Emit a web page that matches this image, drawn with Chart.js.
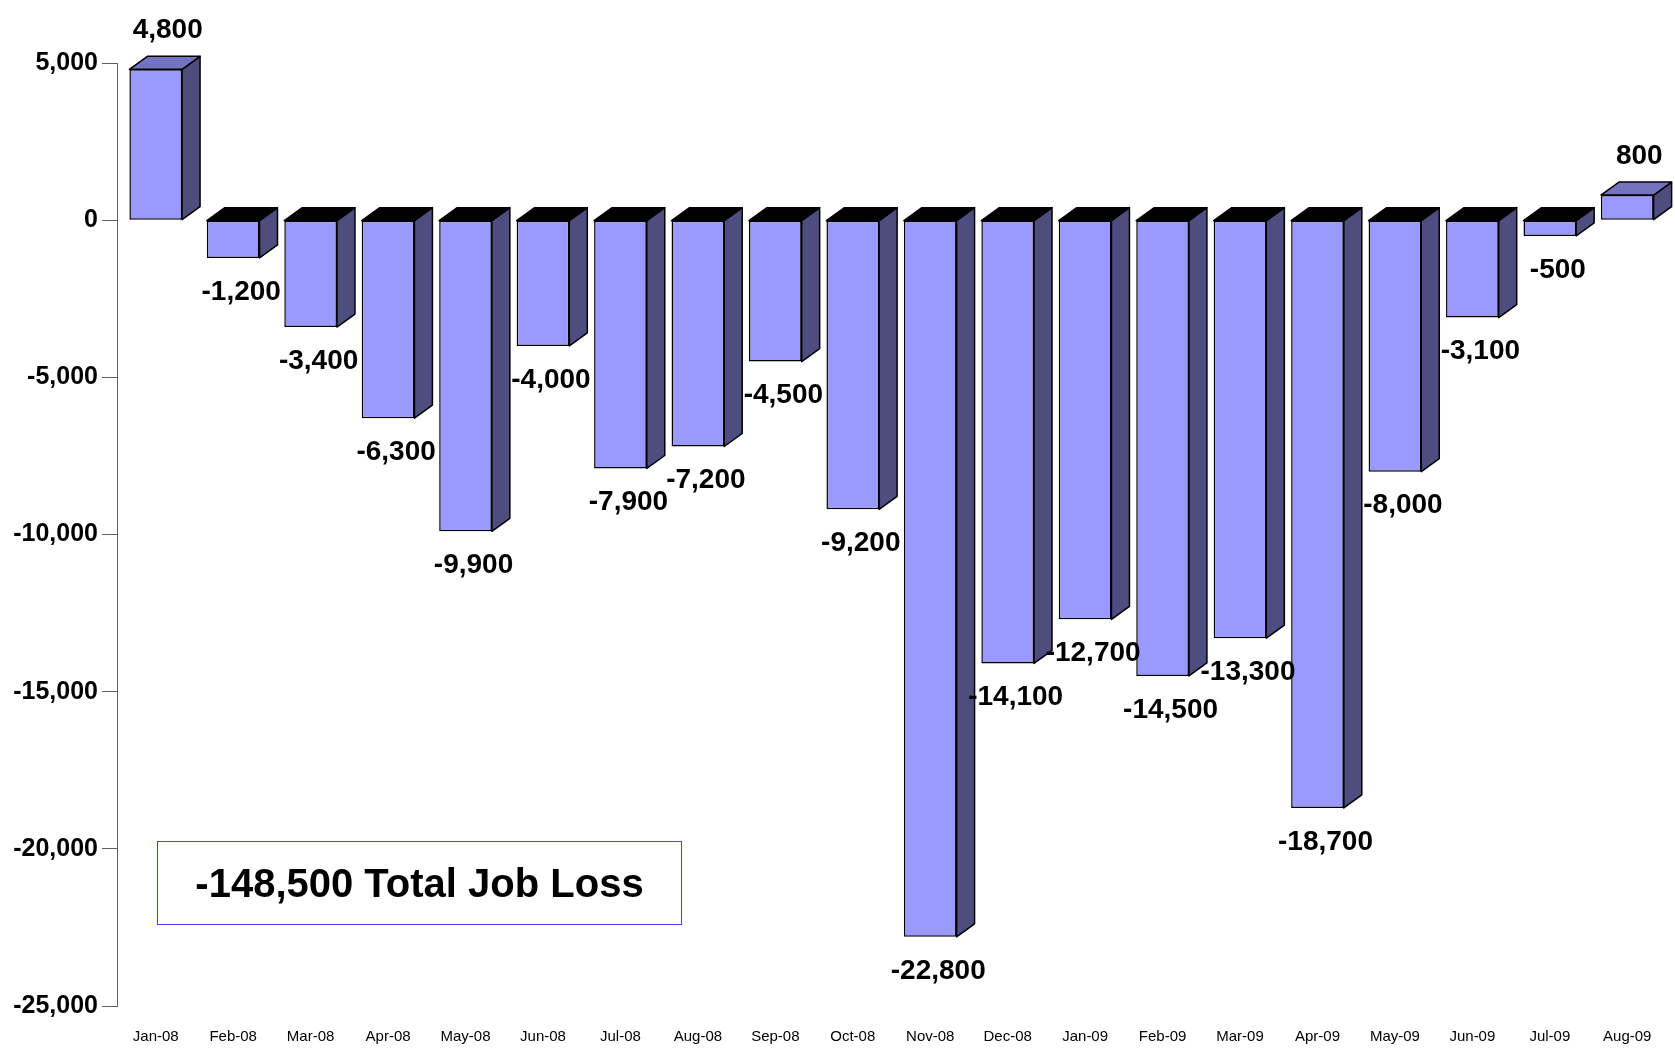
<!DOCTYPE html>
<html>
<head>
<meta charset="utf-8">
<script src="https://cdn.jsdelivr.net/npm/chart.js@4"></script>
<style>
  html, body { margin: 0; padding: 0; background: #fff; }
  #wrap { position: relative; width: 1675px; height: 1048px; }
  #totalBox {
    position: absolute; left: 157px; top: 841px; width: 525px; height: 84px;
    border: 1px solid #4040ff; box-sizing: border-box;
    font: bold 40px "Liberation Sans", Arial, sans-serif; color: #000;
    display: flex; align-items: center; justify-content: center;
  }
</style>
</head>
<body>
<div id="wrap">
  <canvas id="jobChart" width="1675" height="1048"></canvas>
  <div id="totalBox">-148,500 Total Job Loss</div>
</div>
<script>
// monthly job change
const months = ['Jan-08', 'Feb-08', 'Mar-08', 'Apr-08', 'May-08', 'Jun-08', 'Jul-08', 'Aug-08', 'Sep-08', 'Oct-08',
                'Nov-08', 'Dec-08', 'Jan-09', 'Feb-09', 'Mar-09', 'Apr-09', 'May-09', 'Jun-09', 'Jul-09', 'Aug-09'];
const jobChange = [4800, -1200, -3400, -6300, -9900, -4000, -7900, -7200, -4500, -9200,
                   -22800, -14100, -12700, -14500, -13300, -18700, -8000, -3100, -500, 800];
const yTicks = [5000, 0, -5000, -10000, -15000, -20000, -25000];

const DX = 18, DY = 13;
const fmt = v => v.toLocaleString('en-US');

// side + top faces and the value labels
const bars3d = {
    id: 'bars3d',
    afterDatasetsDraw(chart) {
        const ctx = chart.ctx;
        const meta = chart.getDatasetMeta(0);
        ctx.save();
        ctx.lineWidth = 1.5;
        ctx.strokeStyle = '#000';
        ctx.lineJoin = 'round';
        meta.data.forEach((bar, i) => {
            const v = jobChange[i];
            const half = bar.width / 2;
            const l = bar.x - half, r = bar.x + half;
            const top = Math.min(bar.y, bar.base), bot = Math.max(bar.y, bar.base);

            // side
            ctx.beginPath();
            ctx.moveTo(r, top);
            ctx.lineTo(r + DX, top - DY);
            ctx.lineTo(r + DX, bot - DY);
            ctx.lineTo(r, bot);
            ctx.closePath();
            ctx.fillStyle = '#4d4d80';
            ctx.fill();
            ctx.stroke();

            // top
            ctx.beginPath();
            ctx.moveTo(l, top);
            ctx.lineTo(l + DX, top - DY);
            ctx.lineTo(r + DX, top - DY);
            ctx.lineTo(r, top);
            ctx.closePath();
            ctx.fillStyle = v >= 0 ? '#7373bf' : '#000';
            ctx.fill();
            ctx.stroke();

            // label
            ctx.fillStyle = '#000';
            ctx.font = 'bold 28px "Liberation Sans", Arial, sans-serif';
            ctx.textAlign = 'center';
            ctx.textBaseline = 'middle';
            if (v >= 0) {
                ctx.fillText(fmt(v), bar.x + DX / 2 + 3, top - DY - 26);
            } else {
                ctx.fillText(fmt(v), bar.x + 8, bot + 34);
            }
        });
        ctx.restore();
    }
};

new Chart(document.getElementById('jobChart'), {
    type: 'bar',
    data: {
        labels: months,
        datasets: [{
            data: jobChange,
            backgroundColor: '#9999ff',
            borderColor: '#000',
            borderWidth: 1.5,
            borderSkipped: false,
            barPercentage: 0.68,
            categoryPercentage: 1
        }]
    },
    options: {
        responsive: false,
        animation: false,
        layout: { padding: { top: 63, right: 9, left: 0, bottom: 0 } },
        plugins: { legend: { display: false }, tooltip: { enabled: false } },
        scales: {
            x: {
                grid: { display: false, drawTicks: false },
                border: { display: false },
                ticks: {
                    color: '#000',
                    padding: 22,
                    maxRotation: 0,
                    autoSkip: false,
                    font: { family: '"Liberation Sans", Arial, sans-serif', size: 15 }
                },
                afterFit(scale) { scale.height = 42; }
            },
            y: {
                min: -25000,
                max: 5000,
                afterBuildTicks(scale) { scale.ticks = yTicks.map(v => ({ value: v })); },
                grid: { drawOnChartArea: false, drawTicks: true, tickLength: 15, color: '#606060' },
                border: { display: true, color: '#606060', width: 1 },
                ticks: {
                    color: '#000',
                    padding: 4,
                    font: { family: '"Liberation Sans", Arial, sans-serif', size: 25, weight: 'bold' },
                    callback: v => fmt(v)
                },
                afterFit(scale) { scale.width = 117; }
            }
        }
    },
    plugins: [bars3d]
});
</script>
</body>
</html>
